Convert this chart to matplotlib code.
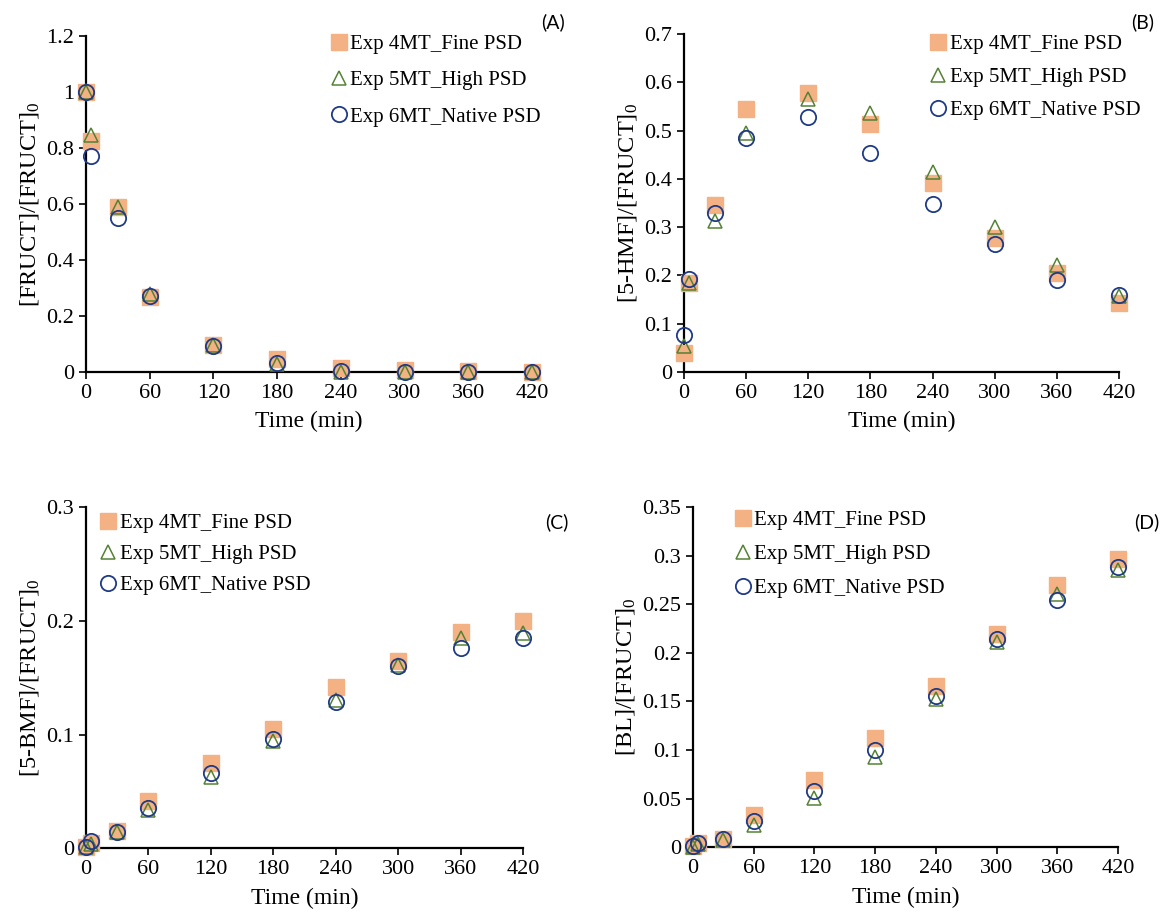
import matplotlib
matplotlib.use("Agg")
import matplotlib.pyplot as plt

plt.rcParams["font.family"] = ["Liberation Serif", "DejaVu Serif"]
plt.rcParams["mathtext.fontset"] = "custom"
plt.rcParams["mathtext.rm"] = "Liberation Serif"
plt.rcParams["mathtext.it"] = "Liberation Serif:italic"

# sampling times (min)
time = [0, 5, 30, 60, 120, 180, 240, 300, 360, 420]
labels = ["Exp 4MT_Fine PSD", "Exp 5MT_High PSD", "Exp 6MT_Native PSD"]

# (A) fructose
fruct_4mt = [1.0, 0.826, 0.588, 0.268, 0.096, 0.046, 0.013, 0.008, 0.002, 0.001]
fruct_5mt = [1.0, 0.847, 0.590, 0.280, 0.095, 0.030, 0.0, 0.0, 0.0, 0.0]
fruct_6mt = [1.0, 0.772, 0.550, 0.270, 0.092, 0.033, 0.003, 0.001, 0.0, 0.0]

# (B) 5-HMF
hmf_4mt = [0.040, 0.184, 0.345, 0.544, 0.577, 0.513, 0.392, 0.277, 0.205, 0.142]
hmf_5mt = [0.053, 0.184, 0.312, 0.496, 0.566, 0.537, 0.414, 0.301, 0.222, 0.157]
hmf_6mt = [0.076, 0.192, 0.329, 0.485, 0.529, 0.453, 0.348, 0.265, 0.191, 0.159]

# (C) 5-BMF
bmf_4mt = [0.001, 0.005, 0.015, 0.042, 0.075, 0.105, 0.142, 0.165, 0.190, 0.200]
bmf_5mt = [0.001, 0.004, 0.014, 0.034, 0.063, 0.094, 0.130, 0.161, 0.185, 0.189]
bmf_6mt = [0.001, 0.006, 0.014, 0.035, 0.066, 0.096, 0.129, 0.160, 0.176, 0.185]

# (D) BL
bl_4mt = [0.001, 0.004, 0.009, 0.033, 0.069, 0.112, 0.166, 0.219, 0.270, 0.297]
bl_5mt = [0.000, 0.003, 0.008, 0.023, 0.051, 0.093, 0.153, 0.211, 0.261, 0.285]
bl_6mt = [0.001, 0.004, 0.009, 0.027, 0.058, 0.100, 0.156, 0.214, 0.254, 0.288]

ORANGE = "#F4B183"
GREEN = "#548235"
NAVY = "#1F3A86"

panels = [
    dict(rect=[0.0739, 0.5943, 0.3832, 0.3664], ylim=(0, 1.2), step=0.2,
         data=(fruct_4mt, fruct_5mt, fruct_6mt), ylabel="[FRUCT]/[FRUCT]$_0$",
         tag="(A)", tagpos=(0.4755, 0.976), leg=(0.282, 0.962), ls=0.79),
    dict(rect=[0.5876, 0.5943, 0.3737, 0.3686], ylim=(0, 0.7), step=0.1,
         data=(hmf_4mt, hmf_5mt, hmf_6mt), ylabel="[5-HMF]/[FRUCT]$_0$",
         tag="(B)", tagpos=(0.982, 0.976), leg=(0.797, 0.962), ls=0.64),
    dict(rect=[0.0739, 0.0749, 0.3754, 0.3722], ylim=(0, 0.3), step=0.1,
         data=(bmf_4mt, bmf_5mt, bmf_6mt), ylabel="[5-BMF]/[FRUCT]$_0$",
         tag="(C)", tagpos=(0.478, 0.430), leg=(0.084, 0.440), ls=0.55),
    dict(rect=[0.5954, 0.0760, 0.3651, 0.3711], ylim=(0, 0.35), step=0.05,
         data=(bl_4mt, bl_5mt, bl_6mt), ylabel="[BL]/[FRUCT]$_0$",
         tag="(D)", tagpos=(0.985, 0.430), leg=(0.629, 0.443), ls=0.68),
]

fig = plt.figure(figsize=(11.64, 9.17), dpi=100)

for p in panels:
    ax = fig.add_axes(p["rect"])
    s1, s2, s3 = p["data"]
    ax.plot(time, s1, linestyle="none", marker="s", markersize=11,
            color=ORANGE, markeredgecolor=ORANGE, label=labels[0], zorder=3)
    ax.plot(time, s2, linestyle="none", marker="^", markersize=10,
            markerfacecolor="none", markeredgecolor=GREEN, markeredgewidth=1.1,
            label=labels[1], zorder=4)
    ax.plot(time, s3, linestyle="none", marker="o", markersize=11,
            markerfacecolor="none", markeredgecolor=NAVY, markeredgewidth=1.3,
            label=labels[2], zorder=5)

    ax.set_xlim(0, 420)
    ax.set_ylim(*p["ylim"])
    ax.set_xticks(range(0, 421, 60))
    n = int(round(p["ylim"][1] / p["step"]))
    yt = [round(i * p["step"], 3) for i in range(n + 1)]
    ax.set_yticks(yt)
    ax.set_yticklabels(["{:g}".format(v) for v in yt])
    for side in ("top", "right"):
        ax.spines[side].set_visible(False)
    for side in ("left", "bottom"):
        ax.spines[side].set_linewidth(1.6)
    ax.tick_params(axis="both", labelsize=16, width=1.2, length=5, direction="out")
    ax.set_xlabel("Time (min)", fontsize=17, labelpad=6)
    ax.set_ylabel(p["ylabel"], fontsize=17.5, labelpad=4)
    for line in ax.get_lines():
        line.set_clip_on(False)

    ax.legend(loc="upper left", bbox_to_anchor=p["leg"],
              bbox_transform=fig.transFigure, frameon=False, fontsize=15,
              handletextpad=0.05, handlelength=1.0, labelspacing=p["ls"],
              borderaxespad=0, borderpad=0)
    fig.text(p["tagpos"][0], p["tagpos"][1], p["tag"], fontsize=14,
             family=["Lato", "DejaVu Sans"], ha="center", va="center")

fig.savefig("out.png", dpi=100)
